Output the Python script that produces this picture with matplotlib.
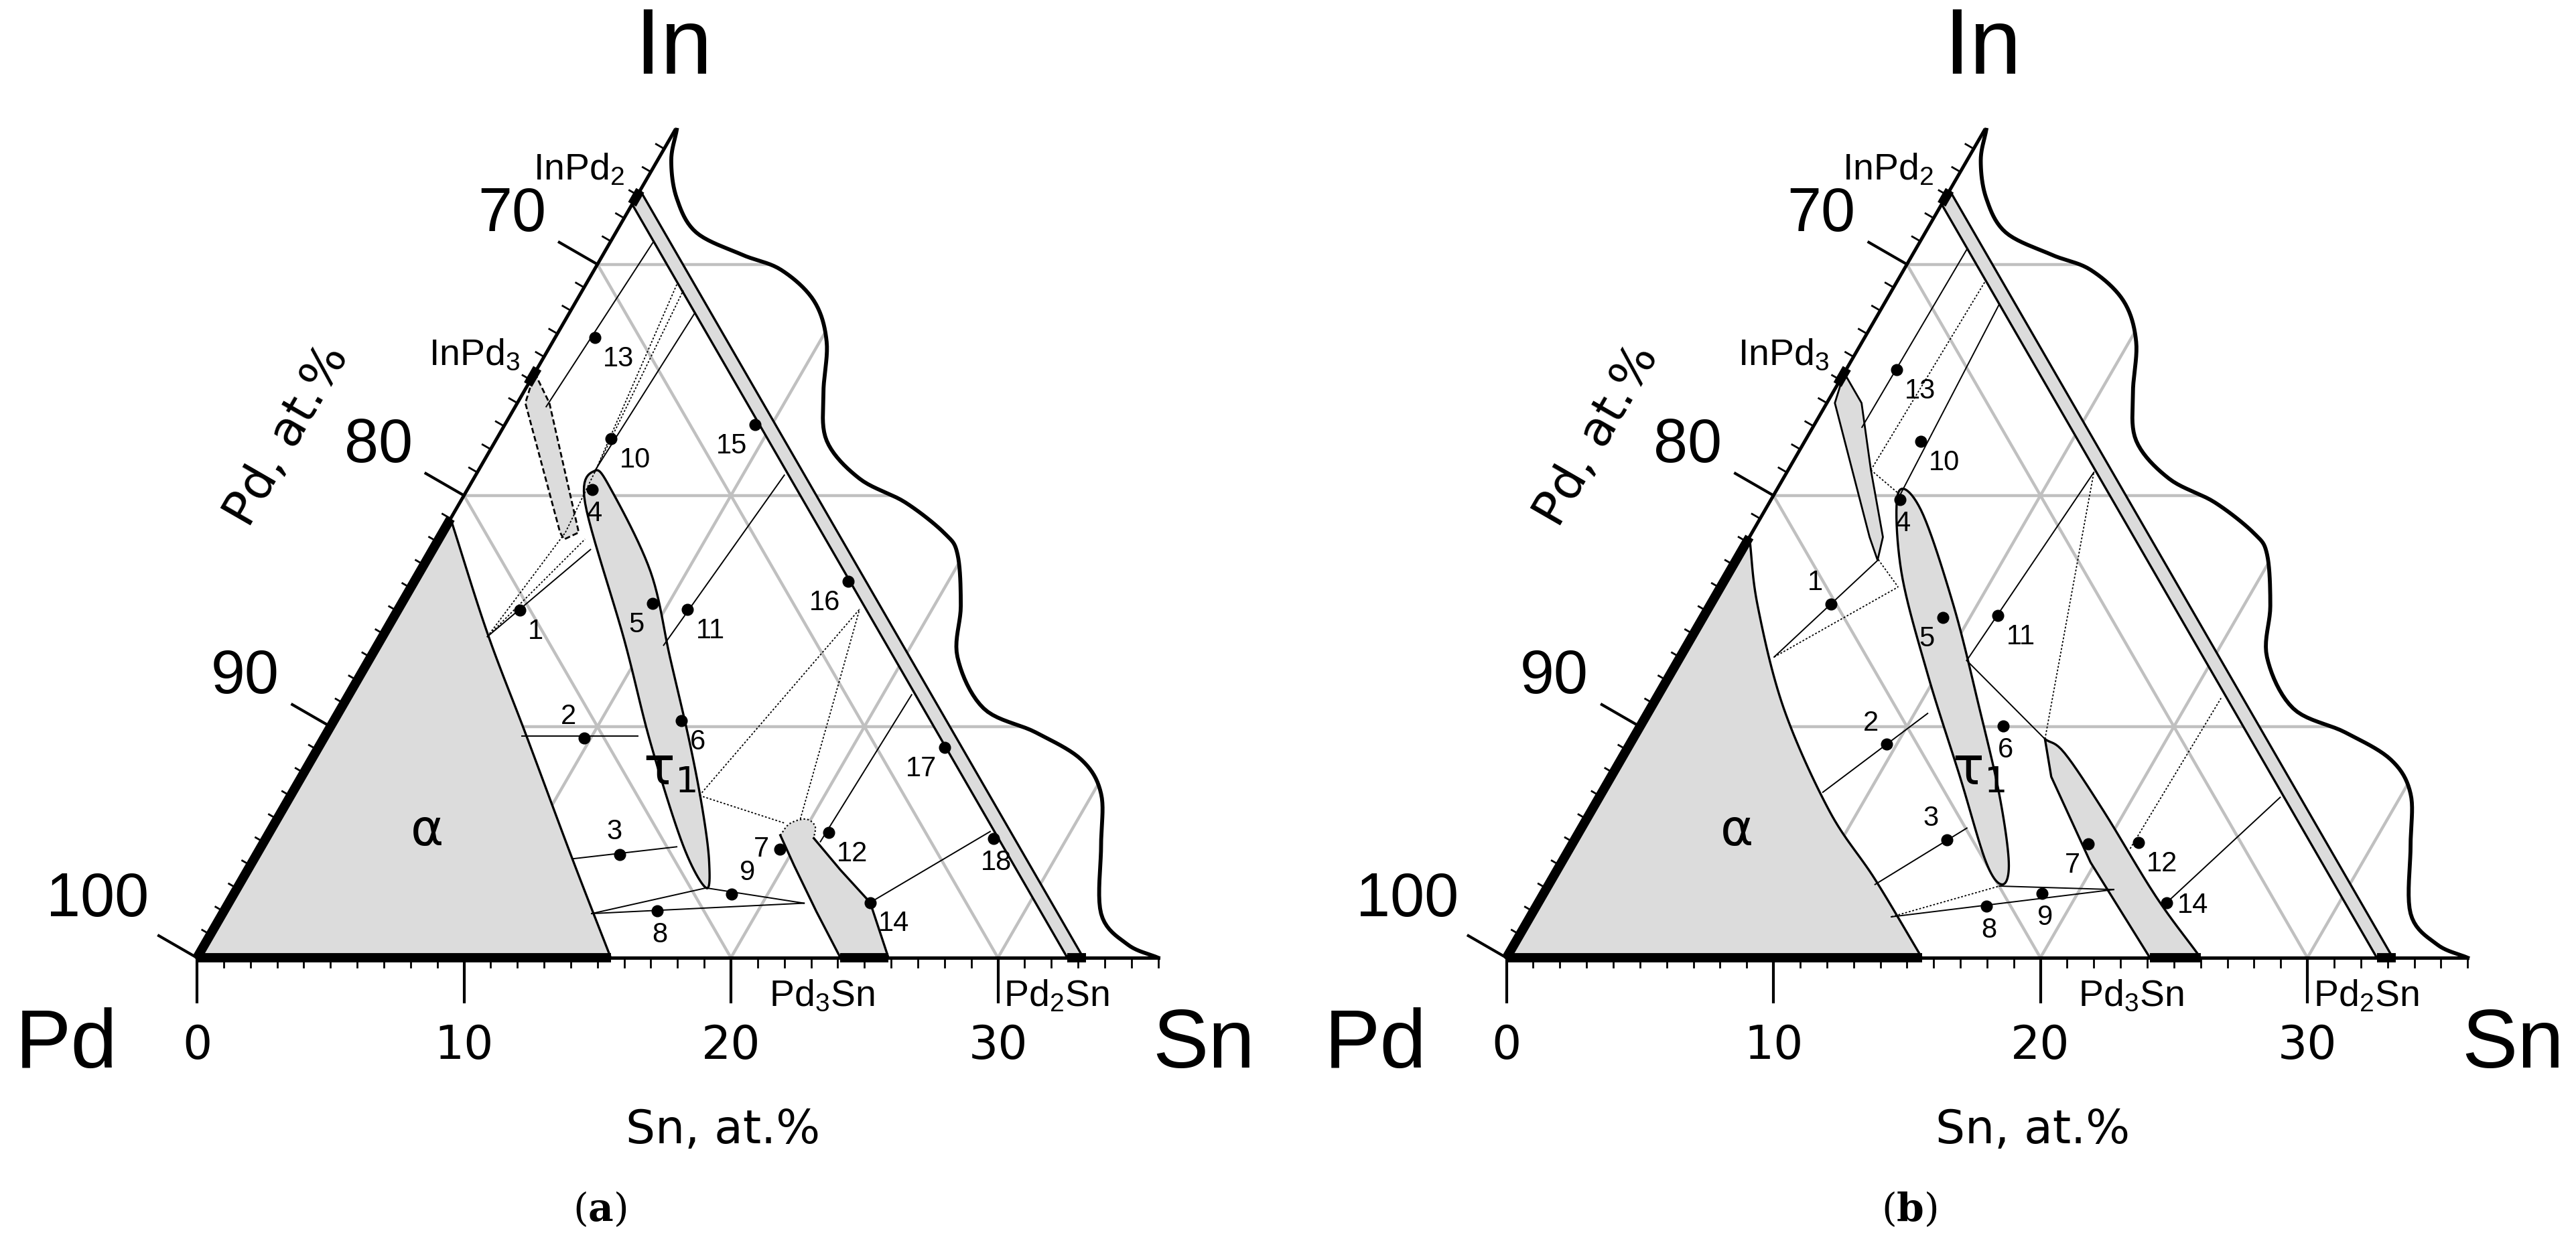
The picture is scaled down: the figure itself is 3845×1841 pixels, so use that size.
import numpy as np
import matplotlib
matplotlib.use("Agg")
import matplotlib.pyplot as plt
from matplotlib.patches import Polygon

plt.rcParams['mathtext.default'] = 'regular'
plt.rcParams['font.family'] = ['DejaVu Sans']
NARROW = ['Liberation Sans Narrow', 'Liberation Sans', 'DejaVu Sans']

S3 = np.sqrt(3) / 2
GRAY_FILL = '#dcdcdc'
GRID = '#c0c0c0'

# ---- data: compositions as (Sn, In) at.% ----
wave = [(0.06, 35.82), (0.52, 34.49), (1.54, 32.86), (3.01, 31.38), (5.2, 30.42), (7.0, 29.76),
        (8.9, 28.42), (10.26, 26.65), (11.25, 24.43), (12.41, 22.36), (14.45, 20.73),
        (16.68, 19.70), (18.81, 18.37), (19.77, 17.44), (21.0, 15.22), (21.98, 13.01),
        (24.07, 10.79), (26.54, 9.75), (28.84, 8.57), (30.32, 7.09), (31.43, 4.87),
        (32.91, 1.91), (34.56, 0.58), (36.0, 0.0)]

band_pd = (67.4, 66.8)          # InPd2 - Pd2Sn line compound

alpha_a = [(0, 19.0), (3.86, 14.04), (7.54, 9.6), (11.92, 4.28), (15.5, 0)]
alpha_b = [(0, 18.2), (1.8, 15.22), (4.99, 10.79), (8.92, 6.35), (12.11, 3.39), (15.56, 0)]

tau_a = [(4.37, 21.07), (5.39, 20.25), (8.64, 16.70), (11.21, 13.01), (13.8, 9.31), (15.77, 6.35),
         (17.12, 4.13), (17.56, 3.02), (15.77, 4.87), (12.33, 9.31), (9.13, 13.75), (4.71, 19.66)]
tau_b = [(4.62, 20.1), (5.84, 19.37), (9.14, 15.22), (12.32, 10.79), (14.91, 7.09), (16.75, 4.13),
         (16.99, 3.17), (15.9, 4.13), (13.07, 7.83), (9.64, 12.27), (6.44, 16.70)]

inpd3_a = [(0, 25.3), (1.2, 24.0), (5.1, 18.4), (4.7, 18.1), (4.4, 18.4), (0.3, 24.0)]
inpd3_b = [(0, 25.3), (1.3, 24.0), (3.1, 21.1), (5.0, 18.2), (5.3, 17.2), (4.5, 18.2), (2.4, 21.1), (0.3, 24.0)]

pd3sn_a_left = [(24.1, 0), (22.2, 2.0), (20.38, 3.98), (19.2, 5.3)]
pd3sn_a_cap = [(19.2, 5.3), (19.3, 5.8), (19.8, 6.0), (20.3, 5.7), (20.52, 5.17)]
pd3sn_a_right = [(20.52, 5.17), (22.2, 3.8), (24.02, 2.39), (25.9, 0)]
pd3sn_b_left = [(24.1, 0), (19.81, 4.13), (16.49, 7.83), (15.44, 9.46)]
pd3sn_b_right = [(15.44, 9.46), (16.47, 8.86), (19.19, 6.35), (23.0, 2.65), (26.0, 0)]

ties_a = [((3.93, 13.89), (5.91, 17.66)), ((7.38, 9.6), (11.71, 9.6)), ((11.92, 4.28), (15.57, 4.80)),
          ((13.83, 1.91), (17.56, 3.02)), ((17.56, 3.02), (21.56, 2.36)), ((13.83, 1.91), (21.56, 2.36)),
          ((4.37, 21.07), (4.7, 27.9)), ((10.72, 13.52), (11.56, 20.88)), ((1.16, 23.84), (1.61, 31.0)),
          ((20.84, 5.02), (21.08, 11.38)), ((24.02, 2.39), (26.98, 5.46))]
dots_a = [((3.93, 13.89), (4.6, 18.4)), ((3.93, 13.89), (5.48, 18.11)), ((4.6, 18.4), (3.78, 28.87)),
          ((4.4, 21.0), (3.4, 29.2)), ((15.31, 7.02), (17.28, 15.08)), ((15.31, 7.02), (19.08, 5.83)),
          ((19.6, 6.0), (17.28, 15.08))]

ties_b = [((3.52, 13.01), (5.32, 17.22)), ((8.27, 7.16), (10.49, 10.57)), ((12.22, 3.17), (14.44, 5.61)),
          ((16.91, 3.10), (21.27, 2.95)), ((13.53, 1.77), (21.27, 2.95)), ((4.74, 19.85), (4.32, 28.28)),
          ((10.81, 12.86), (11.5, 21.0)), ((1.84, 22.95), (1.92, 30.64)), ((23.54, 2.39), (25.51, 6.94)),
          ((10.81, 12.86), (15.44, 9.46))]
dots_b = [((3.52, 13.01), (6.65, 16.04)), ((5.32, 17.22), (6.65, 16.04)), ((13.53, 1.77), (16.91, 3.10)),
          ((3.1, 21.1), (3.3, 29.3)), ((3.1, 21.1), (4.62, 20.1)), ((15.44, 9.46), (11.5, 21.0)),
          ((21.0, 4.72), (21.15, 11.23))]

pts_a = {1: (4.58, 15.05), 2: (9.75, 9.5), 3: (13.6, 4.47), 4: (4.68, 20.25), 5: (9.39, 15.33),
         6: (13.03, 10.25), 7: (19.48, 4.69), 8: (16.23, 2.02), 9: (18.64, 2.76), 10: (4.29, 22.46),
         11: (10.84, 15.08), 12: (20.94, 5.43), 13: (1.49, 26.83), 14: (24.02, 2.39), 15: (9.37, 23.06),
         16: (16.25, 16.29), 17: (23.47, 9.09), 18: (27.24, 5.17)}
pts_b = {1: (4.5, 15.30), 2: (9.63, 9.23), 3: (13.95, 5.09), 4: (4.84, 19.81), 5: (8.99, 14.71),
         6: (13.59, 10.02), 7: (19.32, 4.92), 8: (16.85, 2.24), 9: (18.68, 2.77), 10: (4.35, 22.33),
         11: (11.01, 14.81), 12: (21.18, 4.97), 13: (1.9, 25.44), 14: (23.54, 2.39)}

# label placement of point numbers
pos_a = {1: 'br', 2: 'al', 3: 'a', 4: 'b', 5: 'bl', 6: 'br', 7: 'l', 8: 'b', 9: 'ar', 10: 'br',
         11: 'br', 12: 'br', 13: 'br', 14: 'br', 15: 'bl', 16: 'bl', 17: 'bl', 18: 'b'}
pos_b = {1: 'al', 2: 'al', 3: 'al', 4: 'b', 5: 'bl', 6: 'b', 7: 'bl', 8: 'b', 9: 'b', 10: 'br',
         11: 'br', 12: 'br', 13: 'br', 14: 'r'}

sn_ticks = [0, 10, 20, 30]
pd_ticks = [100, 90, 80, 70]


def xy(sn, inn):
    return sn + inn / 2.0, inn * S3


def arr(pts):
    p = np.array(pts, float)
    x, y = xy(p[:, 0], p[:, 1])
    return np.column_stack([x, y])


def smooth(p, n=16, closed=False):
    p = np.asarray(p, float)
    if closed:
        ext = np.vstack([p[-1], p, p[0], p[1]])
    else:
        ext = np.vstack([2 * p[0] - p[1], p, 2 * p[-1] - p[-2]])
    out = []
    t = np.linspace(0, 1, n, endpoint=False)[:, None]
    for i in range(1, len(ext) - 2):
        p0, p1, p2, p3 = ext[i - 1], ext[i], ext[i + 1], ext[i + 2]
        out.append(0.5 * ((2 * p1) + (-p0 + p2) * t + (2 * p0 - 5 * p1 + 4 * p2 - p3) * t ** 2
                          + (-p0 + 3 * p1 - 3 * p2 + p3) * t ** 3))
    out.append(ext[-2][None, :])
    return np.vstack(out)


def seg(ax, a, b, **kw):
    p = arr([a, b])
    ax.plot(p[:, 0], p[:, 1], **kw)


def draw_panel(ax, alpha, tau, inpd3, ties, dots, pts, pos, letter, panel):
    ax.set_axis_off()
    wv = smooth(arr(wave), 10)
    clip = Polygon(np.vstack([[0, 0], wv[::-1], xy(0, 35.8)]), closed=True, transform=ax.transData,
                   fc='none', ec='none')
    ax.add_patch(clip)
    # grid
    for v in (10, 20, 30):
        for a, b in [((0, v), (40, v)), ((v, 0), (v, 40)), ((v, 0), (0, v))]:
            p = arr([a, b])
            ln, = ax.plot(p[:, 0], p[:, 1], color=GRID, lw=3.2, zorder=1)
            ln.set_clip_path(clip)
    # break line
    ax.plot(wv[:, 0], wv[:, 1], color='black', lw=4.2, zorder=6)

    # alpha
    ab = smooth(arr(alpha), 16)
    ax.add_patch(Polygon(np.vstack([[0, 0], ab]), closed=True, fc=GRAY_FILL, ec='none', zorder=2))
    ax.plot(ab[:, 0], ab[:, 1], color='black', lw=2.4, zorder=4)
    # tau1
    tb = smooth(arr(tau), 12, closed=True)
    ax.add_patch(Polygon(tb, closed=True, fc=GRAY_FILL, ec='black', lw=2.4, zorder=3))
    # InPd3
    ip = arr(inpd3)
    ax.add_patch(Polygon(ip, closed=True, fc=GRAY_FILL, ec='black', lw=2.0,
                         ls=(0, (3, 1.5)) if panel == 'a' else '-', zorder=3))
    # InPd2 - Pd2Sn band
    l0, l1 = 100 - band_pd[0], 100 - band_pd[1]
    bd = arr([(l0, 0), (0, l0), (0, l1), (l1, 0)])
    ax.add_patch(Polygon(bd, closed=True, fc=GRAY_FILL, ec='black', lw=2.4, zorder=3))
    # Pd3Sn
    if panel == 'a':
        left, cap, right = arr(pd3sn_a_left), smooth(arr(pd3sn_a_cap), 8), arr(pd3sn_a_right)
        outline = np.vstack([left, cap, right])
        ax.add_patch(Polygon(outline, closed=True, fc=GRAY_FILL, ec='none', zorder=3))
        ax.plot(left[:, 0], left[:, 1], color='black', lw=2.4, zorder=4)
        ax.plot(right[:, 0], right[:, 1], color='black', lw=2.4, zorder=4)
        ax.plot(cap[:, 0], cap[:, 1], color='black', lw=1.6, ls=(0, (1, 1.5)), zorder=4)
    else:
        left, right = arr(pd3sn_b_left), smooth(arr(pd3sn_b_right), 8)
        outline = np.vstack([left, right])
        ax.add_patch(Polygon(outline, closed=True, fc=GRAY_FILL, ec='black', lw=2.4, zorder=3))

    for a, b in ties:
        seg(ax, a, b, color='black', lw=1.4, zorder=5)
    for a, b in dots:
        seg(ax, a, b, color='black', lw=1.3, ls=(0, (1.5, 1.5)), zorder=5)

    offs = {'br': (0.3, -0.3, 'left', 'top'), 'bl': (-0.3, -0.3, 'right', 'top'),
            'al': (-0.3, 0.3, 'right', 'bottom'), 'a': (-0.2, 0.35, 'center', 'bottom'),
            'ar': (0.3, 0.3, 'left', 'bottom'), 'b': (0.1, -0.4, 'center', 'top'),
            'l': (-0.4, 0.0, 'right', 'center'), 'r': (0.4, -0.1, 'left', 'center')}
    for k, (sn, inn) in pts.items():
        x, y = xy(sn, inn)
        ax.plot(x, y, 'o', color='black', ms=12, zorder=8)
        dx, dy, ha, va = offs[pos[k]]
        ax.text(x + dx, y + dy, str(k), fontsize=30, ha=ha, va=va, zorder=9, family=NARROW)

    # axes lines
    ax.plot([0, 36], [0, 0], color='black', lw=3.6, zorder=7)
    top = xy(0, 35.8)
    ax.plot([0, top[0]], [0, top[1]], color='black', lw=3.6, zorder=7)
    # thick parts
    ax.plot([0, alpha[-1][0]], [0, 0], color='black', lw=10, solid_capstyle='butt', zorder=7)
    for a, b in [(24.1, 25.9 if panel == 'a' else 26.0), (32.6, 33.3)]:
        ax.plot([a, b], [0, 0], color='black', lw=10, solid_capstyle='butt', zorder=7)
    for a, b in [(0, alpha[0][1]), (24.8, 25.5), (32.6, 33.2)]:
        p = arr([(0, a), (0, b)])
        ax.plot(p[:, 0], p[:, 1], color='black', lw=10, solid_capstyle='butt', zorder=7)

    # ticks
    nrm = np.array([-S3, 0.5])
    for v in range(0, 37):
        big = v % 10 == 0
        L = 1.65 if big else 0.35
        ax.plot([v, v], [0, -L], color='black', lw=3.0 if big else 2.0, zorder=7)
        if v <= 35:
            x, y = xy(0, v)
            ax.plot([x, x + nrm[0] * L], [y, y + nrm[1] * L], color='black',
                    lw=3.0 if big else 2.0, zorder=7)
    for v in sn_ticks:
        ax.text(v, -3.31, str(v), fontsize=50, ha='center', va='center')
    for v in pd_ticks:
        x, y = xy(0, 100 - v)
        d = 3.7 if v < 100 else 4.3
        ax.text(x + nrm[0] * d, y + nrm[1] * d, str(v), fontsize=66, ha='center', va='center',
                family=NARROW)

    ax.text(17.84, 34.03, 'In', fontsize=100, ha='center', va='center', family=NARROW)
    ax.text(-4.9, -3.31, 'Pd', fontsize=90, ha='center', va='center', family=NARROW)
    ax.text(37.7, -3.31, 'Sn', fontsize=90, ha='center', va='center', family=NARROW)
    ax.text(3.39, 19.57, 'Pd, at.%', fontsize=52, rotation=60, ha='center', va='center')
    ax.text(19.7, -6.45, 'Sn, at.%', fontsize=50, ha='center', va='center')
    ax.text(14.3, 29.5, 'InPd$_2$', fontsize=40, ha='center', va='center', family=NARROW)
    ax.text(10.39, 22.56, 'InPd$_3$', fontsize=40, ha='center', va='center', family=NARROW)
    ax.text(23.4, -1.46, 'Pd$_3$Sn', fontsize=40, ha='center', va='center', family=NARROW)
    ax.text(32.2, -1.46, 'Pd$_2$Sn', fontsize=40, ha='center', va='center', family=NARROW)
    ax.text(8.63, 4.74, 'α', fontsize=54, ha='center', va='center', zorder=9)
    ax.text(17.7, 7.05, 'τ$_1$', fontsize=56, ha='center', va='center', zorder=9)
    ax.text(15.08, -9.45, '(' + r'$\mathbf{' + letter + '}$' + ')', fontsize=42, ha='center',
            va='center', family='DejaVu Serif', math_fontfamily='dejavuserif')


W, H = 3845, 1841
fig = plt.figure(figsize=(W / 100, H / 100), dpi=100)
scale = 39.85
for (x0, x_origin, alpha, tau, inpd3, ties, dots, pts, pos, letter, panel) in [
        (0, 294, alpha_a, tau_a, inpd3_a, ties_a, dots_a, pts_a, pos_a, 'a', 'a'),
        (1922, 2248.6, alpha_b, tau_b, inpd3_b, ties_b, dots_b, pts_b, pos_b, 'b', 'b')]:
    w = 1922
    ax = fig.add_axes([x0 / W, 0, w / W, 1])
    ax.set_xlim(-(x_origin - x0) / scale, (x0 + w - x_origin) / scale)
    ax.set_ylim(-(H - 1430) / scale, 1430 / scale)
    draw_panel(ax, alpha, tau, inpd3, ties, dots, pts, pos, letter, panel)

fig.savefig('out.png', dpi=100, facecolor='white')
